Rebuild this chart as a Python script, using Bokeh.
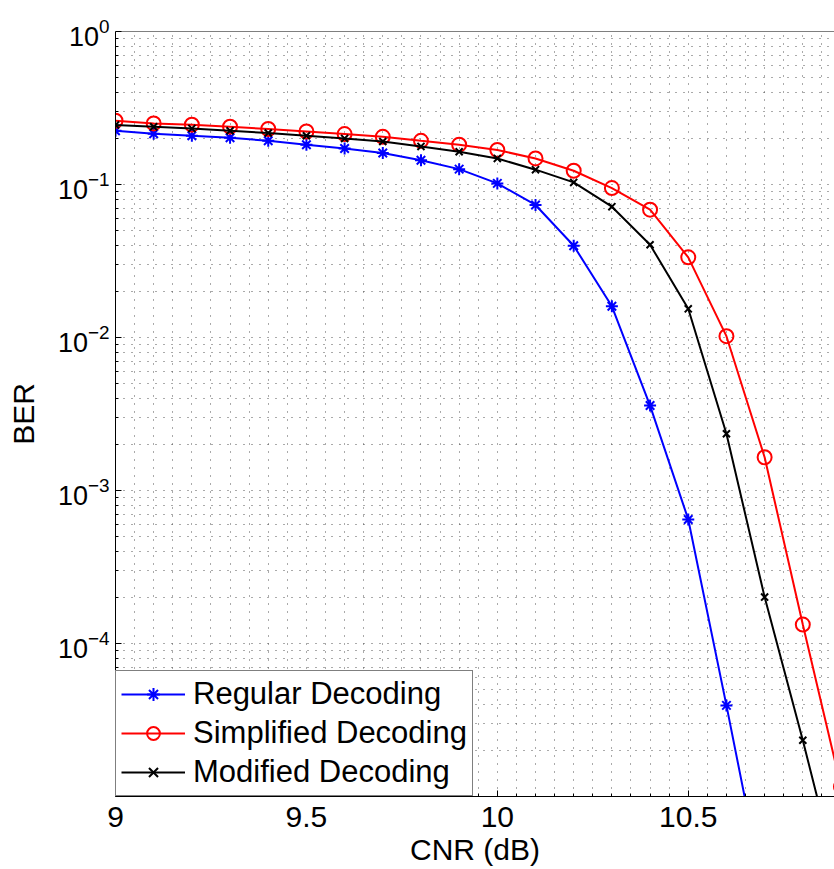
from bokeh.plotting import figure
from bokeh.models import (Range1d, FixedTicker, Legend, LegendItem, Span,
                          NumeralTickFormatter, LogTickFormatter)
from bokeh.embed import file_html
from bokeh.resources import INLINE

# ---------------- data ----------------
cnr_regular = [9.0, 9.1, 9.2, 9.3, 9.4, 9.5, 9.6, 9.7, 9.8, 9.9,
               10.0, 10.1, 10.2, 10.3, 10.4, 10.5, 10.6, 10.7]
ber_regular = [0.2246, 0.2147, 0.208, 0.202, 0.193, 0.182, 0.172, 0.1606, 0.144, 0.126,
               0.1017, 0.0735, 0.0398, 0.016, 0.00359, 6.47e-4, 3.94e-5, 2.2e-6]

cnr_simplified = [9.0, 9.1, 9.2, 9.3, 9.4, 9.5, 9.6, 9.7, 9.8, 9.9,
                  10.0, 10.1, 10.2, 10.3, 10.4, 10.5, 10.6, 10.7, 10.8, 10.9]
ber_simplified = [0.261, 0.2507, 0.246, 0.2386, 0.2305, 0.222, 0.2137, 0.205, 0.193, 0.182,
                  0.168, 0.148, 0.123, 0.0948, 0.0685, 0.0334, 0.0102, 0.00165, 1.33e-4, 1.16e-5]

cnr_modified = [9.0, 9.1, 9.2, 9.3, 9.4, 9.5, 9.6, 9.7, 9.8, 9.9,
                10.0, 10.1, 10.2, 10.3, 10.4, 10.5, 10.6, 10.7, 10.8, 10.9]
ber_modified = [0.245, 0.2386, 0.2325, 0.2246, 0.217, 0.2083, 0.200, 0.191, 0.1774, 0.1637,
                0.148, 0.125, 0.1032, 0.0716, 0.0404, 0.0154, 0.00235, 2.01e-4, 2.33e-5, 2.4e-6]

series_labels = ["Regular Decoding", "Simplified Decoding", "Modified Decoding"]

x_ticks = [9, 9.5, 10, 10.5]
x_minor_ticks = [9.05, 9.1, 9.15, 9.2, 9.25, 9.3, 9.35, 9.4, 9.45,
                 9.55, 9.6, 9.65, 9.7, 9.75, 9.8, 9.85, 9.9, 9.95,
                 10.05, 10.1, 10.15, 10.2, 10.25, 10.3, 10.35, 10.4, 10.45,
                 10.55, 10.6, 10.65, 10.7, 10.75, 10.8, 10.85]
y_ticks = [1e-4, 1e-3, 1e-2, 1e-1, 1]
y_minor_ticks = [m * 10.0 ** e for e in range(-5, 0) for m in range(2, 10)]

FONT = "Liberation Sans"

p = figure(width=834, height=869,
           x_range=Range1d(9, 10.883), y_range=Range1d(1e-5, 1),
           y_axis_type="log", output_backend="svg", toolbar_location=None,
           min_border_left=115, min_border_right=0, min_border_top=31,
           min_border_bottom=73)
p.outline_line_color = None
p.background_fill_color = "white"
p.border_fill_color = "white"

xt = FixedTicker(ticks=x_ticks, minor_ticks=x_minor_ticks)
yt = FixedTicker(ticks=y_ticks, minor_ticks=y_minor_ticks)

for ax in p.xaxis:
    ax.ticker = xt
    ax.formatter = NumeralTickFormatter(format="0[.]0")
    ax.axis_label = "CNR (dB)"
    ax.major_label_text_font_size = "30px"
    ax.major_label_standoff = 10
    ax.axis_label_standoff = 3
for ax in p.yaxis:
    ax.ticker = yt
    ax.formatter = LogTickFormatter()
    ax.axis_label = "BER"
    ax.major_label_text_font_size = "27px"
    ax.major_label_standoff = 6
    ax.axis_label_standoff = 15

for ax in list(p.xaxis) + list(p.yaxis):
    ax.major_tick_in = 6
    ax.major_tick_out = 0
    ax.minor_tick_in = 3
    ax.minor_tick_out = 0
    ax.axis_line_color = "black"
    ax.major_tick_line_color = "black"
    ax.minor_tick_line_color = "black"
    ax.major_label_text_color = "black"
    ax.major_label_text_font = FONT
    ax.axis_label_text_font = FONT
    ax.axis_label_text_font_style = "normal"
    ax.axis_label_text_font_size = "30px"
    ax.axis_label_text_color = "black"

# top border of the axes box
p.add_layout(Span(location=1, dimension="width", line_color="black", line_width=1))

for g, t in ((p.xgrid, xt), (p.ygrid, yt)):
    g.ticker = t
    g.grid_line_color = "#555555"
    g.grid_line_dash = "1 7"
    g.grid_line_width = 1
    g.minor_grid_line_color = "#555555"
    g.minor_grid_line_dash = "1 7"
    g.minor_grid_line_width = 1

l1 = p.line(cnr_regular, ber_regular, line_color="#0000ff", line_width=2)
m1 = p.scatter(cnr_regular, ber_regular, marker="asterisk", size=12,
               line_color="#0000ff", line_width=2)
l2 = p.line(cnr_simplified, ber_simplified, line_color="#ff0000", line_width=2)
m2 = p.scatter(cnr_simplified, ber_simplified, marker="circle", size=14,
               line_color="#ff0000", fill_color=None, line_width=2)
l3 = p.line(cnr_modified, ber_modified, line_color="black", line_width=2)
m3 = p.scatter(cnr_modified, ber_modified, marker="x", size=10,
               line_color="black", line_width=2)

legend = Legend(items=[LegendItem(label=series_labels[0], renderers=[l1, m1]),
                       LegendItem(label=series_labels[1], renderers=[l2, m2]),
                       LegendItem(label=series_labels[2], renderers=[l3, m3])],
                location="bottom_left", margin=0, padding=5, spacing=3,
                glyph_width=64, glyph_height=32, label_height=32, label_standoff=8,
                label_text_font=FONT, label_text_font_size="31px",
                label_text_color="black",
                border_line_color="black", border_line_width=1,
                background_fill_color="white", background_fill_alpha=1.0)
p.add_layout(legend)

open("out.html", "w").write(file_html(p, INLINE))
